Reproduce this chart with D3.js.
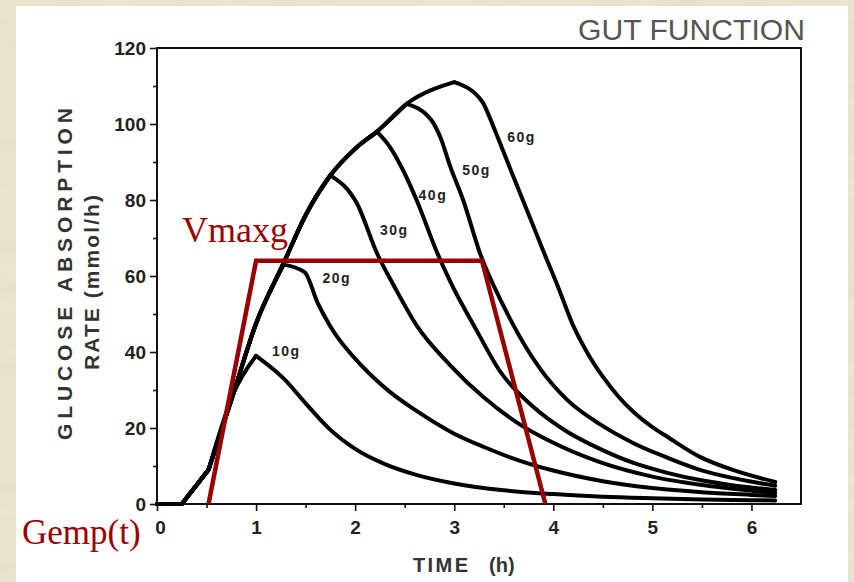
<!DOCTYPE html>
<html>
<head>
<meta charset="utf-8">
<script src="https://cdn.jsdelivr.net/npm/d3@7/dist/d3.min.js"></script>
<style>
  html, body { margin: 0; padding: 0; background: #ebe6cf; }
  svg { display: block; }
  .tick text { font-family: "Liberation Sans", Arial, sans-serif; font-weight: bold; }
</style>
</head>
<body>
<div id="chart"></div>
<script>
// Axis ticks
const hourTicks = [0, 1, 2, 3, 4, 5, 6];
const hourMinor = [0.5, 1.5, 2.5, 3.5, 4.5, 5.5];
const rateTicks = [0, 20, 40, 60, 80, 100, 120];
const rateMinor = [10, 30, 50, 70, 90, 110];

// Glucose absorption rate (mmol/h) vs time (h), one curve per dose
const doses = ["10g", "20g", "30g", "40g", "50g", "60g"];
const curve10 = [[0,0],[0.25,0],[0.52,9],[0.77,29],[1.0,39],[1.28,33],[1.5,26.5],[1.75,19.5],[2.0,14.5],[2.3,10.5],[2.6,7.8],[3.0,5.4],[3.5,3.6],[4.0,2.6],[4.5,1.9],[5.0,1.5],[5.5,1.2],[6.0,1.0],[6.24,0.9]];
const curve20 = [[0,0],[0.25,0],[0.52,9],[0.77,29],[1.0,47.5],[1.28,63],[1.49,61],[1.62,53],[1.75,46.7],[2.08,36],[2.35,29.5],[2.62,24.5],[3.0,18.5],[3.3,15],[3.65,11.5],[3.97,9],[4.5,6],[5.0,4.2],[5.5,3.1],[6.0,2.4],[6.24,2.1]];
const curve30 = [[0,0],[0.25,0],[0.52,9],[0.77,29],[1.0,47.5],[1.28,63.5],[1.5,76],[1.75,86.5],[2.02,79],[2.22,66],[2.39,57.5],[2.62,47],[2.96,36.5],[3.3,28],[3.63,21.5],[3.97,16.5],[4.47,11],[5.0,7.2],[5.5,5],[6.0,3.5],[6.24,2.9]];
const curve40 = [[0,0],[0.25,0],[0.52,9],[0.77,29],[1.0,47.5],[1.28,63.5],[1.5,76],[1.75,86.5],[2.0,93.5],[2.22,98],[2.35,94],[2.49,87.5],[2.62,80],[2.83,66],[2.96,58.5],[3.23,45.5],[3.46,35],[3.8,25.5],[4.14,19],[4.47,14.5],[4.81,10.8],[5.15,8.2],[5.48,6.3],[5.82,4.9],[6.24,3.7]];
const curve50 = [[0,0],[0.25,0],[0.52,9],[0.77,29],[1.0,47.5],[1.28,63.5],[1.5,76],[1.75,86.5],[2.0,93.5],[2.22,98],[2.52,105.3],[2.77,101],[2.86,96.5],[2.96,88.8],[3.09,80],[3.26,66],[3.5,52],[3.73,41],[3.87,35.5],[4.14,27.4],[4.47,21],[4.81,16],[5.15,12.2],[5.48,9],[5.82,6.8],[6.24,4.8]];
const curve60 = [[0,0],[0.25,0],[0.52,9],[0.77,29],[1.0,47.5],[1.28,63.5],[1.5,76],[1.75,86.5],[2.0,93.5],[2.22,98],[2.52,105.3],[3.0,111],[3.28,106],[3.4,99],[3.5,92.5],[3.63,84],[3.77,75],[3.9,66.5],[4.05,57],[4.2,47],[4.35,39.5],[4.5,33.5],[4.65,28.5],[4.81,24.2],[5.0,20.2],[5.15,17.7],[5.48,12.4],[5.82,8.9],[6.24,5.8]];
const curves = [curve10, curve20, curve30, curve40, curve50, curve60];

// Where each dose label sits (time, rate at baseline)
const labelTime = [1.16, 1.67, 2.25, 2.64, 3.08, 3.535];
const labelRate = [39, 58.2, 70.8, 80, 86.6, 95.3];

// Red overlay: Gemp(t) trapezoid with the Vmaxg plateau
const vmaxg = 64;
const trapTime = [0.52, 1.0, 3.28, 3.92];
const trapRate = [0, vmaxg, vmaxg, 0];

const W = 854, H = 582;
const svg = d3.select("#chart").append("svg").attr("width", W).attr("height", H);

// Parchment background
const defs = svg.append("defs");
const paper = defs.append("filter").attr("id", "paper").attr("x", 0).attr("y", 0).attr("width", "100%").attr("height", "100%");
paper.append("feTurbulence").attr("type", "fractalNoise").attr("baseFrequency", "0.012 0.05").attr("numOctaves", 3).attr("seed", 7);
paper.append("feColorMatrix").attr("type", "matrix")
  .attr("values", "0 0 0 0 0.74  0 0 0 0 0.70  0 0 0 0 0.56  0.9 0 0 0 -0.25");
svg.append("rect").attr("width", W).attr("height", H).attr("fill", "#ebe6cf");
svg.append("rect").attr("width", W).attr("height", H).attr("filter", "url(#paper)");
svg.append("rect").attr("x", 16).attr("y", 6).attr("width", 832).attr("height", H - 6).attr("fill", "#fff");

// Scales
const x = d3.scaleLinear().domain([0, 6.5]).range([157, 801]);
const y = d3.scaleLinear().domain([0, 120]).range([504, 48]);

// Title
svg.append("text")
  .attr("x", 578).attr("y", 40)
  .attr("font-family", "Liberation Sans, Arial, sans-serif")
  .attr("font-size", 30).attr("fill", "#555")
  .attr("textLength", 227).attr("lengthAdjust", "spacingAndGlyphs")
  .text("GUT FUNCTION");

// Axes
const gY = svg.append("g").attr("transform", `translate(${x(0)},0)`);
gY.call(d3.axisLeft(y).tickValues(rateTicks).tickSize(7).tickPadding(4));
gY.append("g").call(d3.axisLeft(y).tickValues(rateMinor).tickSize(4).tickFormat(""));
const gX = svg.append("g").attr("transform", `translate(0,${y(0)})`);
gX.call(d3.axisBottom(x).tickValues(hourTicks).tickFormat(d3.format("d")).tickSize(7).tickPadding(10));
gX.append("g").call(d3.axisBottom(x).tickValues(hourMinor).tickSize(4).tickFormat(""));
svg.selectAll(".domain").remove();
svg.selectAll(".tick line").attr("stroke", "#111").attr("stroke-width", 1.6);
svg.selectAll(".tick text").attr("font-size", 19).attr("fill", "#222");
gX.select(".tick text").attr("dx", 3); // the 0 sits just right of the corner

// Frame
svg.append("rect")
  .attr("x", x(0)).attr("y", y(120))
  .attr("width", x(6.5) - x(0)).attr("height", y(0) - y(120))
  .attr("fill", "none").attr("stroke", "#111").attr("stroke-width", 2);

// Axis titles
const yTitle = svg.append("g").attr("font-family", "Liberation Sans, Arial, sans-serif")
  .attr("font-weight", "bold").attr("fill", "#333").attr("font-size", 21);
yTitle.append("text")
  .attr("transform", "translate(72,440) rotate(-90)")
  .attr("textLength", 332).attr("lengthAdjust", "spacing")
  .text("GLUCOSE ABSORPTION");
yTitle.append("text")
  .attr("transform", "translate(99,370) rotate(-90)")
  .attr("textLength", 175).attr("lengthAdjust", "spacing")
  .text("RATE (mmol/h)");
const xTitle = svg.append("g").attr("font-family", "Liberation Sans, Arial, sans-serif")
  .attr("font-weight", "bold").attr("fill", "#333").attr("font-size", 20);
xTitle.append("text").attr("x", 413).attr("y", 572).attr("textLength", 55).attr("lengthAdjust", "spacing").text("TIME");
xTitle.append("text").attr("x", 489).attr("y", 572).text("(h)");

// Curves: straight lag, smooth rise to a sharp peak, smooth decay after it
const straight = d3.line().x((d) => x(d[0])).y((d) => y(d[1]));
const smooth = d3.line().x((d) => x(d[0])).y((d) => y(d[1])).curve(d3.curveMonotoneX);
function pieces(c) {
  const iPeak = d3.maxIndex(c, (d) => d[1]);
  return [
    { d: straight(c.slice(0, 3)) },
    { d: smooth(c.slice(2, iPeak + 1)) },
    { d: smooth(c.slice(iPeak)) },
  ];
}
svg.append("g")
  .selectAll("g")
  .data(curves)
  .join("g")
  .selectAll("path")
  .data(pieces)
  .join("path")
  .attr("d", (p) => p.d)
  .attr("fill", "none")
  .attr("stroke", "#000")
  .attr("stroke-width", 4)
  .attr("stroke-linejoin", "round")
  .attr("stroke-linecap", "round");

// Dose labels
svg.append("g")
  .selectAll("text")
  .data(doses)
  .join("text")
  .attr("x", (d, i) => x(labelTime[i]))
  .attr("y", (d, i) => y(labelRate[i]))
  .attr("font-family", "Liberation Sans, Arial, sans-serif")
  .attr("font-weight", "bold")
  .attr("font-size", 14)
  .attr("letter-spacing", 1.5)
  .attr("fill", "#222")
  .text((d) => d);

// Red annotation
const red = "#990000";
svg.append("path")
  .datum(d3.zip(trapTime, trapRate))
  .attr("d", straight)
  .attr("fill", "none")
  .attr("stroke", red)
  .attr("stroke-width", 4.5)
  .attr("stroke-linejoin", "miter");
svg.append("text")
  .attr("x", 182).attr("y", y(vmaxg) - 19)
  .attr("font-family", "Liberation Serif, Times New Roman, serif")
  .attr("font-size", 36).attr("fill", red)
  .text("Vmaxg");
svg.append("text")
  .attr("x", 22).attr("y", 544)
  .attr("font-family", "Liberation Serif, Times New Roman, serif")
  .attr("font-size", 35).attr("fill", red)
  .text("Gemp(t)");
</script>
</body>
</html>
